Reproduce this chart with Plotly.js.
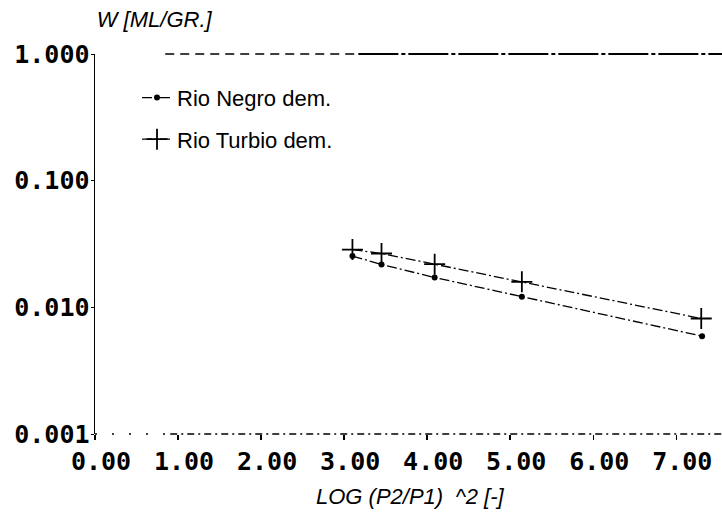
<!DOCTYPE html>
<html>
<head>
<meta charset="utf-8">
<script src="https://cdn.plot.ly/plotly-3.0.1.min.js"></script>
<style>html,body{margin:0;padding:0;background:#fff;}#chart{width:722px;height:520px;}</style>
</head>
<body>
<div id="chart"></div>
<script>
// Data
const xNegro = [3.10, 3.45, 4.09, 5.14, 7.31];
const wNegro = [0.0254, 0.0218, 0.0172, 0.0121, 0.00592];
const xTurbio = [3.10, 3.45, 4.09, 5.14, 7.30];
const wTurbio = [0.0286, 0.0266, 0.0219, 0.0159, 0.00816];
const xTicks = [0, 1, 2, 3, 4, 5, 6, 7];
const xTickText = ["0.00", "1.00", "2.00", "3.00", "4.00", "5.00", "6.00", "7.00"];
const yTicks = [0.001, 0.01, 0.1, 1];
const yTickText = ["0.001", "0.010", "0.100", "1.000"];
const seriesNames = ["Rio Negro dem.", "Rio Turbio dem."];

const sansItalic = {family: "Liberation Sans", size: 22, color: "#000", style: "italic"};

const traces = [
  {
    x: xNegro, y: wNegro, name: seriesNames[0], legendgroup: "a", type: "scatter", mode: "lines+markers",
    line: {color: "#000", width: 1.3, dash: "10px,3px,2px,3px"},
    marker: {symbol: "circle", size: 6, color: "#000"}
  },
  {
    x: xTurbio, y: wTurbio, name: seriesNames[1], legendgroup: "b", type: "scatter", mode: "lines+markers",
    line: {color: "#000", width: 1.3, dash: "10px,3px,2px,3px"},
    marker: {symbol: "cross-thin-open", size: 15, line: {color: "#000", width: 1.8}}
  }
];

const layout = {
  width: 722, height: 520,
  margin: {l: 95, r: 0, t: 54, b: 86},
  paper_bgcolor: "#fff", plot_bgcolor: "#fff",
  showlegend: true,
  title: {text: "W [ML/GR.]", font: sansItalic, x: 0.134, xanchor: "left", xref: "container", y: 0.962, yanchor: "middle"},
  xaxis: {
    range: [0, 7.55], tickvals: xTicks, ticktext: xTickText,
    tickfont: {family: "DejaVu Sans Mono", size: 25, color: "#000", weight: "bold"},
    showgrid: false, zeroline: false, showline: false,
    ticks: "outside", ticklen: 5, tickwidth: 1.5, tickcolor: "#000", ticklabelshift: 6
  },
  yaxis: {
    type: "log", range: [-3, 0], tickvals: yTicks, ticktext: yTickText,
    tickfont: {family: "DejaVu Sans Mono", size: 25, color: "#000", weight: "bold"},
    showgrid: false, zeroline: false, showline: true, linecolor: "#000", linewidth: 1.5,
    ticks: "outside", ticklen: 3, tickwidth: 1, tickcolor: "#000", ticklabelstandoff: -4
  },
  legend: {
    x: 0.067, y: 0.94, xanchor: "left", yanchor: "top",
    bgcolor: "rgba(0,0,0,0)", borderwidth: 0,
    font: {family: "Liberation Sans", size: 22, color: "#000"},
    itemwidth: 30, traceorder: "grouped", tracegroupgap: 10
  },
  annotations: [
    {text: "LOG (P2/P1)  ^2 [-]", xref: "paper", yref: "paper", x: (410 - 95) / 627, y: -0.165, xanchor: "center", yanchor: "middle", showarrow: false, font: sansItalic}
  ],
  shapes: [
    {type: "line", xref: "paper", yref: "paper", x0: 0, x1: 0.12, y0: 0, y1: 0, line: {color: "#000", width: 1.5, dash: "2px,15px"}},
    {type: "line", xref: "paper", yref: "paper", x0: 0.12, x1: 1, y0: 0, y1: 0, line: {color: "#000", width: 1.5, dash: "7px,4px,2px,4px"}},
    {type: "line", xref: "paper", yref: "paper", x0: 0.112, x1: 0.42, y0: 1, y1: 1, line: {color: "#000", width: 1.5, dash: "9px,6px"}},
    {type: "line", xref: "paper", yref: "paper", x0: 0.42, x1: 1, y0: 1, y1: 1, line: {color: "#000", width: 1.8, dash: "40px,3px,4px,3px"}}
  ]
};

Plotly.newPlot("chart", traces, layout, {displayModeBar: false, staticPlot: true});
</script>
</body>
</html>
